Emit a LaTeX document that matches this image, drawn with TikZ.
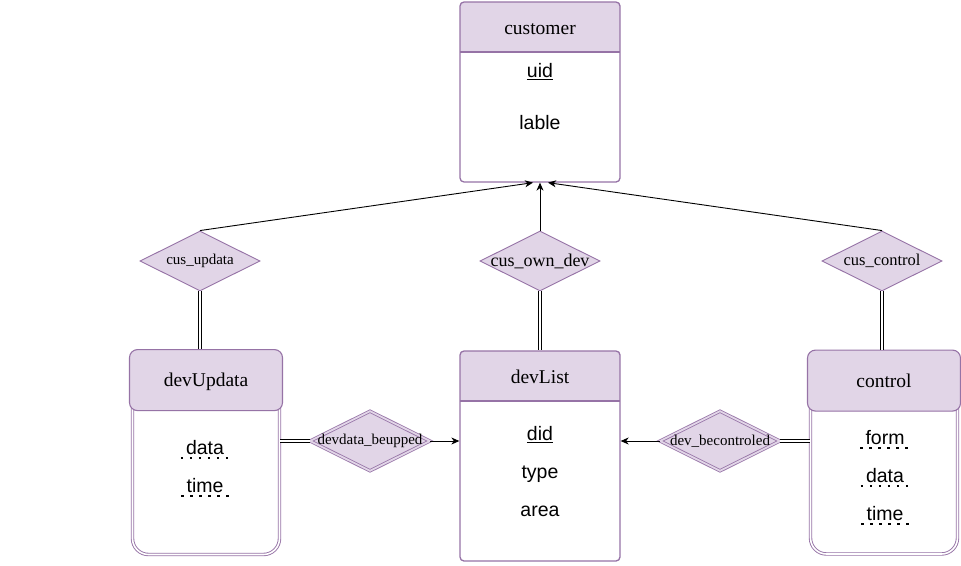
\documentclass[tikz,border=0pt]{standalone}
\usepackage{fontspec}
\setmainfont{Liberation Serif}
\setsansfont{Liberation Sans}
\usetikzlibrary{positioning,shapes.geometric,arrows.meta}

\definecolor{ermfill}{HTML}{E1D5E7}
\definecolor{ermline}{HTML}{9673A6}

\tikzset{
	entity/.style={draw=ermline, line width=1.3pt, fill=white, rounded corners=4pt, minimum width=160pt,
		path picture={\fill[ermfill, sharp corners] (path picture bounding box.north west) rectangle ([yshift=-50pt]path picture bounding box.north east);
			\draw[ermline, line width=1.3pt, sharp corners] ([yshift=-50pt]path picture bounding box.north west) -- ([yshift=-50pt]path picture bounding box.north east);}},
	weakentity/.style={draw=ermline, line width=0.9pt, double=white, double distance=1.6pt, fill=white, rounded corners=16pt, minimum width=147pt},
	header/.style={draw=ermline, line width=1.1pt, fill=ermfill, rounded corners=8pt, minimum width=153pt, minimum height=61pt, text depth=0pt, font=\fontsize{19.5}{23}\selectfont},
	title/.style={minimum height=50pt, font=\fontsize{19.5}{23}\selectfont},
	attr/.style={font=\sffamily\fontsize{19.5}{23}\selectfont, inner xsep=5pt, inner ysep=0pt, text height=14pt, text depth=3pt},
	partkey/.style={line width=2.4pt, dash pattern=on 2.4pt off 6.6pt},
	rel/.style={diamond, draw=ermline, line width=0.9pt, fill=ermfill, minimum width=120pt, minimum height=60pt, inner sep=0pt},
	weakrel/.style={rel, double=ermfill, double distance=1.8pt, line width=0.8pt},
	relfont/.style={font=\fontsize{15}{18}\selectfont},
	total/.style={double, double distance=2pt, line width=0.8pt},
	link/.style={->, line width=0.9pt},
	>={Stealth[length=8pt,width=7pt,inset=2.5pt]}
}

\begin{document}
\begin{tikzpicture}[x=1pt, y=-1pt]
	\useasboundingbox (0,0) rectangle (961,565);

	% Entities
	\node (customer) [entity, minimum height=180pt] at (540,92) {};
	\node (customerH) [title, below=3pt of customer.north] {customer};
	\node (uid) [attr] at (540,72) {\underline{uid}};
	\node (lable) [attr, below of=uid, node distance=52pt] {lable};

	\node (devList) [entity, minimum height=210pt] at (540,456) {};
	\node (devListH) [title, below=1pt of devList.north] {devList};
	\node (did) [attr] at (540,435) {\underline{did}};
	\node (type) [attr, below of=did, node distance=38pt] {type};
	\node (area) [attr, below of=type, node distance=38pt] {area};

	\node (devUpdata) [weakentity, minimum height=203pt] at (206,453) {};
	\node (devUpdataH) [header, below=-2pt of devUpdata.north] {devUpdata};
	\node (udata) [attr] at (205,449) {data};
	\node (utime) [attr, below of=udata, node distance=38pt] {time};

	\node (control) [weakentity, minimum height=202pt] at (884,453) {};
	\node (controlH) [header, below=-2pt of control.north] {control};
	\node (cform) [attr] at (885,439) {form};
	\node (cdata) [attr, below of=cform, node distance=38pt] {data};
	\node (ctime) [attr, below of=cdata, node distance=38pt] {time};

	% Relations
	\node (rUpdata) [rel, label={[relfont]center:cus\_updata}] at (200,261) {};
	\node (rOwnDev) [rel, label={[font=\fontsize{18}{21}\selectfont]center:cus\_own\_dev}] at (540,261) {};
	\node (rControl) [rel, label={[font=\fontsize{16.5}{20}\selectfont]center:cus\_control}] at (882,261) {};
	\node (rBeupped) [weakrel, label={[relfont]center:devdata\_beupped}] at (370,441) {};
	\node (rBeControl) [weakrel, label={[relfont]center:dev\_becontroled}] at (720,441) {};

	% partial keys
	\draw[partkey] (udata.south west) -- (udata.south east);
	\draw[partkey] (utime.south west) -- (utime.south east);
	\draw[partkey] (cform.south west) -- (cform.south east);
	\draw[partkey] (cdata.south west) -- (cdata.south east);
	\draw[partkey] (ctime.south west) -- (ctime.south east);

	% Arrows
	\draw[link] (rUpdata.north) -- ([xshift=-7pt]customer.south);
	\draw[link] (rOwnDev.north) -- (customer.south);
	\draw[link] (rControl.north) -- ([xshift=8pt]customer.south);
	\draw[link] (rBeupped.east) -- (rBeupped.east -| devList.west);
	\draw[link] (rBeControl.west) -- (rBeControl.west -| devList.east);

	% Double lines
	\draw[total] (rUpdata.south) -- (rUpdata.south |- devUpdataH.north);
	\draw[total] (rOwnDev.south) -- (devList.north);
	\draw[total] (rControl.south) -- (rControl.south |- controlH.north);
	\draw[total] (rBeupped.west) -- (rBeupped.west -| devUpdata.east);
	\draw[total] (rBeControl.east) -- (rBeControl.east -| control.west);
\end{tikzpicture}
\end{document}
